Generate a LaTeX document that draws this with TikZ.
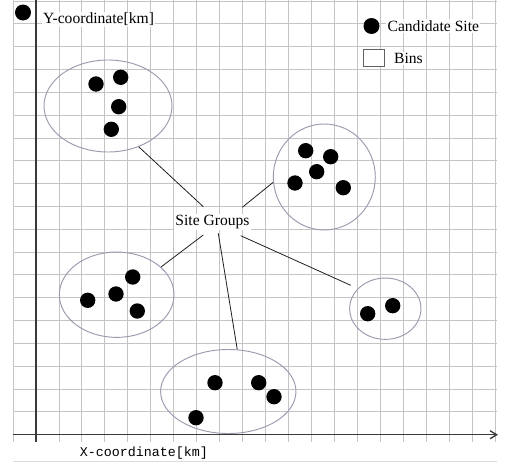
\documentclass[tikz,border=0pt]{standalone}
\usepackage{fontspec}
\setmainfont{Liberation Serif}
\setmonofont{Liberation Mono}
\usetikzlibrary{shapes.geometric,arrows.meta}
\definecolor{gridc}{HTML}{C4C4C4}
\definecolor{axisc}{HTML}{3A3A3A}
\definecolor{ellc}{HTML}{9A9AAE}
\definecolor{connc}{HTML}{202020}
\tikzset{
  gridline/.style={draw=gridc, line width=0.7pt},
  axisline/.style={draw=axisc, line width=1pt},
  dotnode/.style={circle, fill=black, inner sep=0pt, minimum size=11.5pt},
  ell/.style={ellipse, draw=ellc, line width=0.7pt, inner sep=0pt},
  conn/.style={draw=connc, line width=0.6pt},
  lbl/.style={font=\fontsize{11.7}{13}\selectfont, inner sep=1pt, fill=white, fill opacity=0.85, text opacity=1},
}
\begin{document}
\begin{tikzpicture}[x=0.75pt, y=-0.75pt]
\useasboundingbox (0,0) rectangle (508,464);
\fill[white] (0,0) rectangle (508,464);
% grid
\foreach \j in {0,...,21} \draw[gridline] ({13.02+22.98*\j},0) -- ({13.02+22.98*\j},442);
\foreach \k in {1,...,19} \draw[gridline] (13,{434.7-22.82*\k}) -- (497,{434.7-22.82*\k});
\draw[draw=gridc!60, line width=0.6pt] (13,461.5) -- (497,461.5);
% axes
\draw[axisline] (36,0) -- (36,442);
\draw[axisline, -{Straight Barb[length=5pt, width=6pt]}] (13,434.7) -- (498,434.7);
% labels
\node[dotnode, minimum size=12pt] (topdot) at (23,12.5) {};
\node[lbl] (ylab) at (98.5,19.5) {Y-coordinate[km]};
\node[font=\ttfamily\fontsize{10}{12}\selectfont, inner sep=1pt] (xlab) at (144,453) {X-coordinate[km]};
% legend
\node[dotnode, minimum size=12pt] (legdot) at (371.5,26) {};
\node[lbl, anchor=west] (legcand) at (386,26) {Candidate Site};
\node[draw=axisc!80, fill=white, line width=0.8pt, minimum width=16pt, minimum height=13pt, inner sep=0pt] (legbox) at (374.2,58) {};
\node[lbl, anchor=west] (legbins) at (392.5,58.3) {Bins};
% ellipses
\node[ell, minimum width=96pt, minimum height=69pt] (e1) at (108,106) {};
\node[ell, minimum width=76.5pt, minimum height=79.5pt] (e2) at (324.3,177) {};
\node[ell, minimum width=86pt, minimum height=64pt] (e3) at (116.7,294.7) {};
\node[ell, minimum width=101.5pt, minimum height=63pt] (e4) at (228.3,391.5) {};
\node[ell, minimum width=53.5pt, minimum height=46pt] (e5) at (385.3,308.7) {};
% dots
\node[dotnode] (d11) at (96,84) {};
\node[dotnode] (d12) at (120.7,77.3) {};
\node[dotnode] (d13) at (118.7,106.7) {};
\node[dotnode] (d14) at (111.3,129.3) {};
\node[dotnode] (d21) at (305.7,150.7) {};
\node[dotnode] (d22) at (330.7,156.7) {};
\node[dotnode] (d23) at (316.7,171.7) {};
\node[dotnode] (d24) at (295,183) {};
\node[dotnode] (d25) at (343.3,187.7) {};
\node[dotnode] (d31) at (132.7,277) {};
\node[dotnode] (d32) at (116,294) {};
\node[dotnode] (d33) at (87.7,300.3) {};
\node[dotnode] (d34) at (137.3,311) {};
\node[dotnode] (d41) at (215,382.7) {};
\node[dotnode] (d42) at (196,417.7) {};
\node[dotnode] (d43) at (258.7,382.7) {};
\node[dotnode] (d44) at (274,396.7) {};
\node[dotnode] (d51) at (367.7,313.7) {};
\node[dotnode] (d52) at (392.7,305.7) {};
% site groups
\node[lbl, fill opacity=1] (sg) at (212.5,221.7) {Site Groups};
\coordinate (c1) at (203.3,206.7);
\coordinate (c2) at (242.3,207.3);
\coordinate (c3) at (203.3,235);
\coordinate (c4) at (218.3,233.3);
\coordinate (c5) at (240.7,235.7);
\draw[conn] (c1) -- (e1.-53);
\draw[conn] (c2) -- (e2.186);
\draw[conn] (c3) -- (e3.32);
\draw[conn] (c4) -- (e4.78);
\draw[conn] (c5) -- (350.7,285.3) coordinate (c6);
\end{tikzpicture}
\end{document}
